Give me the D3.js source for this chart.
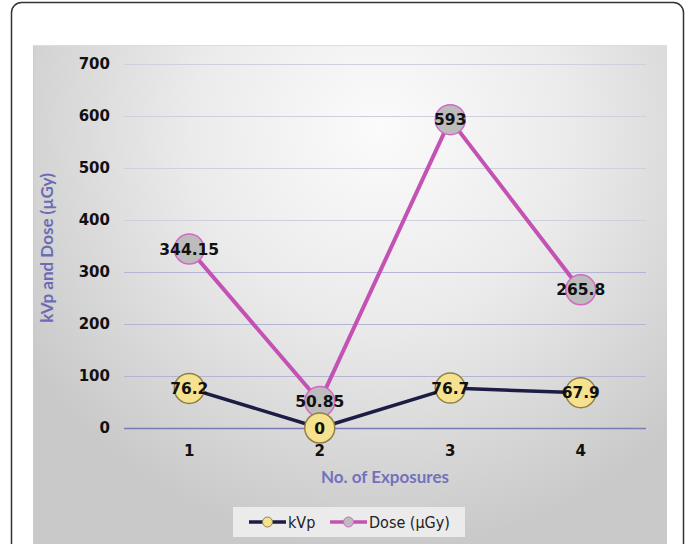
<!DOCTYPE html>
<html>
<head>
<meta charset="utf-8">
<script src="https://cdn.jsdelivr.net/npm/d3@7/dist/d3.min.js"></script>
<style>
  html, body { margin: 0; padding: 0; background: #fff; }
  svg { display: block; }
</style>
</head>
<body>
<svg id="chart" width="693" height="544"></svg>
<script>
// Exposure categories and measured series
const exposures = ["1", "2", "3", "4"];
const kvp = [76.2, 0, 76.7, 67.9];
const dose = [344.15, 50.85, 593, 265.8];
const yTicks = [0, 100, 200, 300, 400, 500, 600, 700];
const seriesNames = ["kVp", "Dose (\u00b5Gy)"];

const svg = d3.select("#chart");

// outer frame
svg.append("rect")
  .attr("x", 11.5).attr("y", 2.5)
  .attr("width", 672).attr("height", 560)
  .attr("rx", 10)
  .attr("fill", "#fff").attr("stroke", "#333").attr("stroke-width", 1.5);

// plot background with soft radial shading
const defs = svg.append("defs");
const rg = defs.append("radialGradient").attr("id", "bg")
  .attr("gradientUnits", "userSpaceOnUse")
  .attr("cx", 380).attr("cy", 130).attr("r", 420);
rg.append("stop").attr("offset", "0%").attr("stop-color", "#fbfbfb");
rg.append("stop").attr("offset", "45%").attr("stop-color", "#ebebeb");
rg.append("stop").attr("offset", "100%").attr("stop-color", "#c9c9c9");

svg.append("rect")
  .attr("x", 33).attr("y", 45)
  .attr("width", 634).attr("height", 499)
  .attr("fill", "url(#bg)");
svg.append("line")
  .attr("x1", 33.5).attr("x2", 33.5).attr("y1", 45).attr("y2", 544)
  .attr("stroke", "#c8c8dc").attr("stroke-width", 1);
svg.append("line")
  .attr("x1", 33).attr("x2", 667).attr("y1", 45.5).attr("y2", 45.5)
  .attr("stroke", "#dcdce8").attr("stroke-width", 1);

// scales
const x = d3.scaleBand().domain(exposures).range([124, 646]);
const cx = d => x(d) + x.bandwidth() / 2;
const y = d3.scaleLinear().domain([0, 700]).range([428, 64]);

// gridlines
svg.append("g").selectAll("line").data(yTicks).join("line")
  .attr("x1", 124).attr("x2", 646)
  .attr("y1", d => Math.round(y(d)) + 0.5).attr("y2", d => Math.round(y(d)) + 0.5)
  .attr("stroke", d => d === 0 ? "#7a7ab8" : (d <= 300 ? "#b4b4d4" : "#d0d0dc"))
  .attr("stroke-width", d => d === 0 ? 1.5 : 1);

const numFont = "DejaVu Sans, Verdana, sans-serif";

// y axis labels
const yAxis = d3.axisLeft(y).tickValues(yTicks).tickSize(0).tickPadding(14);
const gy = svg.append("g").attr("transform", "translate(124,0)").call(yAxis);
gy.select(".domain").remove();
gy.selectAll("text")
  .attr("font-family", numFont)
  .attr("font-weight", "bold").attr("font-size", 15).attr("fill", "#111");

// x axis labels
const xAxis = d3.axisBottom(x).tickSize(0).tickPadding(17);
const gx = svg.append("g").attr("transform", "translate(0,428)").call(xAxis);
gx.select(".domain").remove();
gx.selectAll("text")
  .attr("font-family", numFont)
  .attr("font-weight", "bold").attr("font-size", 15).attr("fill", "#111");

// axis titles
svg.append("text")
  .attr("transform", "translate(53,248) rotate(-90)")
  .attr("text-anchor", "middle")
  .attr("font-family", "Lato, sans-serif").attr("font-weight", "bold")
  .attr("font-size", 17).attr("fill", "#6c6cb4")
  .text("kVp and Dose (\u00b5Gy)");
svg.append("text")
  .attr("x", 385).attr("y", 483)
  .attr("text-anchor", "middle")
  .attr("font-family", "Lato, sans-serif").attr("font-weight", "bold")
  .attr("font-size", 17).attr("fill", "#7272bc")
  .text("No. of Exposures");

const line = d3.line().x((d, i) => cx(exposures[i])).y(d => y(d));

// Dose series
svg.append("path").datum(dose)
  .attr("d", line).attr("fill", "none")
  .attr("stroke", "#c452b4").attr("stroke-width", 4).attr("stroke-linejoin", "round");
// kVp series
svg.append("path").datum(kvp)
  .attr("d", line).attr("fill", "none")
  .attr("stroke", "#1c1c44").attr("stroke-width", 3.5).attr("stroke-linejoin", "round");

function markers(data, fill, stroke) {
  const g = svg.append("g");
  g.selectAll("circle").data(data).join("circle")
    .attr("cx", (d, i) => cx(exposures[i])).attr("cy", d => y(d))
    .attr("r", 15)
    .attr("fill", fill).attr("stroke", stroke).attr("stroke-width", 1.5);
  g.selectAll("text").data(data).join("text")
    .attr("x", (d, i) => cx(exposures[i])).attr("y", d => y(d))
    .attr("dy", "0.36em")
    .attr("text-anchor", "middle")
    .attr("font-family", numFont)
    .attr("font-weight", "bold").attr("font-size", 15.5).attr("fill", "#111")
    .text(d => String(d));
}
markers(dose, "#bcbcbc", "#d268c4");
markers(kvp, "#f6e28e", "#8e7f48");

// legend
const lg = svg.append("g");
lg.append("rect").attr("x", 233).attr("y", 507).attr("width", 232).attr("height", 30)
  .attr("fill", "#ebebeb");
const items = [
  { name: seriesNames[0], x0: 249, x1: 286, line: "#1c1c44", fill: "#f6e28e", stroke: "#8e7f48", tx: 288 },
  { name: seriesNames[1], x0: 330, x1: 367, line: "#c452b4", fill: "#bcbcbc", stroke: "#d268c4", tx: 369 }
];
items.forEach(it => {
  lg.append("line").attr("x1", it.x0).attr("x2", it.x1).attr("y1", 522).attr("y2", 522)
    .attr("stroke", it.line).attr("stroke-width", 3.5);
  lg.append("circle").attr("cx", (it.x0 + it.x1) / 2).attr("cy", 522).attr("r", 5)
    .attr("fill", it.fill).attr("stroke", it.stroke).attr("stroke-width", 1);
  lg.append("text").attr("x", it.tx).attr("y", 522).attr("dy", "0.36em")
    .attr("font-family", "DejaVu Sans Condensed, DejaVu Sans, sans-serif")
    .attr("font-size", 16).attr("fill", "#222")
    .text(it.name);
});
</script>
</body>
</html>
